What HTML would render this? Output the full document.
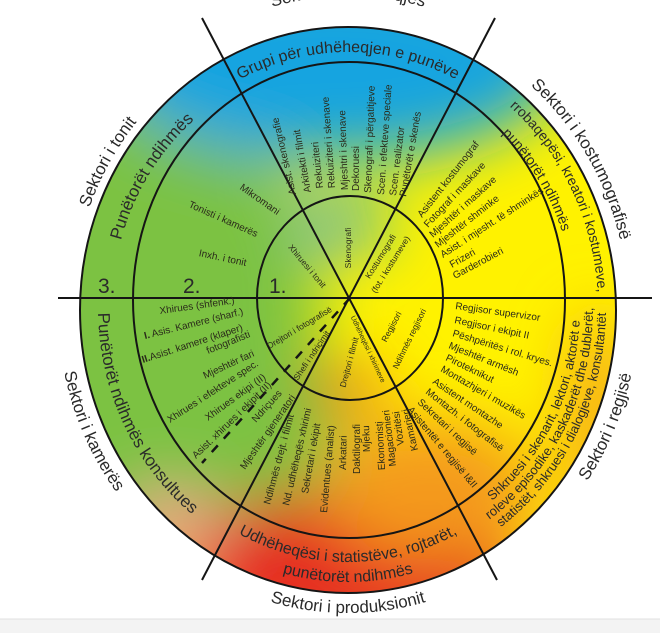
<!DOCTYPE html>
<html><head><meta charset="utf-8"><style>
html,body{margin:0;padding:0;background:#fff;}
svg{display:block;font-family:"Liberation Sans",sans-serif;}
.s{font-size:10px;fill:#2a2a1a;}
.t{font-size:8.5px;fill:#2a2a1a;}
</style></head><body>
<svg width="660" height="633" viewBox="0 0 660 633" xmlns="http://www.w3.org/2000/svg">
<defs>
<clipPath id="cl"><ellipse cx="348" cy="310" rx="268" ry="283"/></clipPath>
<filter id="bl" x="-50%" y="-50%" width="200%" height="200%"><feGaussianBlur stdDeviation="32"/></filter>
<path id="oc1" d="M72,310 A276,292 0 1 1 624,310 A276,292 0 1 1 72,310"/>
<path id="oc2" d="M68,310 A280,296 0 1 1 628,310 A280,296 0 1 1 68,310"/>
<path id="oct" d="M58,310 A290,314 0 1 1 638,310 A290,314 0 1 1 58,310"/>
<path id="ob" d="M58,310 A290,303 0 1 0 638,310 A290,303 0 1 0 58,310"/>
<path id="rc1" d="M112,308 A236,248 0 1 1 584,308 A236,248 0 1 1 112,308"/>
<path id="rct" d="M108,308 A240,256 0 1 1 588,308 A240,256 0 1 1 108,308"/>
<path id="rc2" d="M98,308 A250,264 0 1 1 598,308 A250,264 0 1 1 98,308"/>
<path id="rc3" d="M122,308 A226,238 0 1 1 574,308 A226,238 0 1 1 122,308"/>
<path id="rb1" d="M110,310 A238,252 0 1 0 586,310 A238,252 0 1 0 110,310"/>
<path id="rb2" d="M92,310 A256,272 0 1 0 604,310 A256,272 0 1 0 92,310"/>
<path id="rbk" d="M98,308 A250,264 0 1 0 598,308 A250,264 0 1 0 98,308"/>
<path id="rl1" d="M116,308 A232,246 0 1 0 580,308 A232,246 0 1 0 116,308"/>
<path id="rl2" d="M103,308 A245,259 0 1 0 593,308 A245,259 0 1 0 103,308"/>
<path id="rl3" d="M90,308 A258,272 0 1 0 606,308 A258,272 0 1 0 90,308"/>
</defs>
<rect x="0" y="0" width="660" height="633" fill="#fff"/>
<rect x="0" y="619" width="660" height="14" fill="#f3f3f3"/>
<line x1="0" y1="619" x2="660" y2="619" stroke="#e0e0e0"/>
<g clip-path="url(#cl)">
 <rect x="60" y="20" width="580" height="590" fill="#fff200"/>
 <g filter="url(#bl)">
  <ellipse cx="150" cy="320" rx="170" ry="250" fill="#7cc243"/>
  <ellipse cx="230" cy="420" rx="110" ry="110" fill="#7cc243"/>
  <ellipse cx="335" cy="60" rx="230" ry="100" fill="#19a4e0"/>
  <ellipse cx="345" cy="225" rx="45" ry="22" fill="#19a4e0"/>
  <ellipse cx="350" cy="570" rx="170" ry="80" fill="#e52a24"/>
  <ellipse cx="345" cy="390" rx="40" ry="18" fill="#e52a24"/>
  <ellipse cx="430" cy="490" rx="110" ry="70" fill="#f49a1e"/>
  <ellipse cx="600" cy="420" rx="30" ry="110" fill="#f5a01c"/>
  <ellipse cx="170" cy="525" rx="55" ry="35" fill="#f0a48c"/>
 </g>
</g>
<g fill="none" stroke="#151515" stroke-width="2">
 <ellipse cx="348" cy="310" rx="268" ry="283"/>
 <ellipse cx="349" cy="300" rx="216" ry="238"/>
 <ellipse cx="350" cy="298" rx="93" ry="102"/>
 <line x1="202" y1="18" x2="497" y2="580"/>
 <line x1="495" y1="18" x2="202" y2="580"/>
 <line x1="58" y1="298" x2="652" y2="298"/>
 <line x1="350" y1="298" x2="202" y2="463" stroke-dasharray="9,9" stroke-width="2.5"/>
</g>
<g fill="#2a2a2a">
<text font-size="17"><textPath href="#oc1" startOffset="8.6%" text-anchor="middle">Sektori i tonit</textPath></text>
<text font-size="17"><textPath href="#oc2" startOffset="41.1%" text-anchor="middle">Sektori i kostumografisë</textPath></text>
<text font-size="17"><textPath href="#oct" startOffset="25%" text-anchor="middle">Sektori i udhëheqjes</textPath></text>
<text font-size="17"><textPath href="#ob" startOffset="6.9%" text-anchor="middle">Sektori i kamerës</textPath></text>
<text font-size="17"><textPath href="#ob" startOffset="25%" text-anchor="middle">Sektori i produksionit</textPath></text>
<text font-size="17"><textPath href="#ob" startOffset="43.4%" text-anchor="middle">Sektori i regjisë</textPath></text>
<text font-size="17"><textPath href="#rc1" startOffset="9.2%" text-anchor="middle">Punëtorët ndihmës</textPath></text>
<text font-size="16"><textPath href="#rct" startOffset="25%" text-anchor="middle">Grupi për udhëheqjen e punëve</textPath></text>
<text font-size="14"><textPath href="#rc2" startOffset="42.5%" text-anchor="middle">rrobaqepësi, kreatori i kostumeve,</textPath></text>
<text font-size="14"><textPath href="#rc3" startOffset="40.7%" text-anchor="middle">punëtorët ndihmës</textPath></text>
<text font-size="17"><textPath href="#rbk" startOffset="7.4%" text-anchor="middle">Punëtorët ndihmës konsultues</textPath></text>
<text font-size="16"><textPath href="#rb1" startOffset="25%" text-anchor="middle">Udhëheqësi i statistëve, rojtarët,</textPath></text>
<text font-size="16"><textPath href="#rb2" startOffset="25%" text-anchor="middle">punëtorët ndihmës</textPath></text>
<text font-size="13"><textPath href="#rl1" startOffset="42.3%" text-anchor="middle">Shkruesi i skenarit, lektori, aktorët e</textPath></text>
<text font-size="13"><textPath href="#rl2" startOffset="42.3%" text-anchor="middle">roleve episodike, kaskaderët dhe dublerët,</textPath></text>
<text font-size="13"><textPath href="#rl3" startOffset="42.3%" text-anchor="middle">statistët, shkruesi i dialogjeve, konsultantët</textPath></text>
<text x="98" y="293" font-size="21">3.</text>
<text x="183" y="293" font-size="21">2.</text>
<text x="269" y="293" font-size="21">1.</text>
</g>
<text class="s" transform="translate(258,202) rotate(35)" text-anchor="middle">Mikromani</text>
<text class="s" transform="translate(222,222) rotate(24)" text-anchor="middle">Tonisti i kamerës</text>
<text class="s" transform="translate(222,261) rotate(12)" text-anchor="middle">Inxh. i tonit</text>
<g class="s">
<text transform="translate(296,194) rotate(-103)">Asist. skenografie</text>
<text transform="translate(311,192) rotate(-100)">Arkitekti i filmit</text>
<text transform="translate(323,188) rotate(-96)">Rekuiziteri</text>
<text transform="translate(335,188) rotate(-94)">Rekuiziteri i skenave</text>
<text transform="translate(348,190) rotate(-92)">Mjeshtri i skenave</text>
<text transform="translate(359,191) rotate(-90)">Dekoruesi</text>
<text transform="translate(371,193) rotate(-88)">Skenografi i përgatitjeve</text>
<text transform="translate(384,195) rotate(-86)">Scen. i efekteve speciale</text>
<text transform="translate(396,196) rotate(-83)">Scen. realizator</text>
<text transform="translate(406,197) rotate(-80)">Punëtorët e skenës</text>
</g>
<g class="s">
<text transform="translate(422,218) rotate(-52)">Asistent kostumograf</text>
<text transform="translate(428,228) rotate(-47)">Fotograf i maskave</text>
<text transform="translate(433,238) rotate(-42)">Mjeshtër i maskave</text>
<text transform="translate(438,248) rotate(-38)">Mjeshtër shminke</text>
<text transform="translate(443,258) rotate(-33)">Asist. i mjesht. të shminkës</text>
<text transform="translate(452,268) rotate(-30)">Frizeri</text>
<text transform="translate(455,279) rotate(-28)">Garderobieri</text>
</g>
<g class="s" font-size="10.5">
<text transform="translate(455,309) rotate(8)">Regjisor supervizor</text>
<text transform="translate(454,323) rotate(12)">Regjisor i ekipit II</text>
<text transform="translate(452,336) rotate(17)">Pëshpëritës i rol. kryes.</text>
<text transform="translate(448,348) rotate(22)">Mjeshtër armësh</text>
<text transform="translate(445,360) rotate(26)">Piroteknikut</text>
<text transform="translate(440,371) rotate(30)">Montazhjeri i muzikës</text>
<text transform="translate(432,383) rotate(34)">Asistent montazhe</text>
<text transform="translate(425,393) rotate(38)">Montazh. i fotografisë</text>
<text transform="translate(417,403) rotate(43)">Sekretari i regjisë</text>
<text transform="translate(407,410) rotate(50)">Asistentët e regjisë I&amp;II</text>
</g>
<g class="s">
<text transform="translate(245,470) rotate(-55)">Mjeshtër gjeneratori</text>
<text transform="translate(270,505) rotate(-75)">Ndihmës drejt. i filmit</text>
<text transform="translate(289,506) rotate(-77)">Nd. udhëheqës xhirimi</text>
<text transform="translate(308,494) rotate(-80)">Sekretari i ekipit</text>
<text transform="translate(327,513) rotate(-85)">Evidentues (analist)</text>
<text transform="translate(346,470) rotate(-89)">Arkatari</text>
<text transform="translate(360,474) rotate(-90)">Daktilografi</text>
<text transform="translate(370,452) rotate(-92)">Mjeku</text>
<text transform="translate(385,470) rotate(-93)">Ekonomisti</text>
<text transform="translate(396,466) rotate(-97)">Magacionieri</text>
<text transform="translate(404,445) rotate(-98)">Vozitësi</text>
<text transform="translate(418,450) rotate(-103)">Kamarieri</text>
</g>
<g class="s">
<text transform="translate(160,314) rotate(-8)">Xhirues (shfenk.)</text>
<text transform="translate(145,339) rotate(-14)"><tspan font-weight="bold">I.</tspan> Asis. Kamere (sharf.)</text>
<text transform="translate(143,363) rotate(-18)"><tspan font-weight="bold">II.</tspan>Asist. kamere (klaper)</text>
<text transform="translate(208,354) rotate(-22)">fotografisti</text>
<text transform="translate(205,379) rotate(-25)">Mjeshtër fari</text>
<text transform="translate(170,423) rotate(-33)">Xhirues i efekteve spec.</text>
<text transform="translate(208,421) rotate(-36)">Xhirues ekipi (II)</text>
<text transform="translate(196,459) rotate(-44)">Asist. xhirues i ekipit (II)</text>
<text transform="translate(256,423) rotate(-48)">Ndriçues</text>
</g>
<g class="t">
<text transform="translate(305,268) rotate(50)" text-anchor="middle">Xhiruesi i tonit</text>
<text transform="translate(351,248) rotate(-90)" text-anchor="middle">Skenografi</text>
<text transform="translate(383,258) rotate(-58)" text-anchor="middle">Kostumografi</text>
<text transform="translate(393,266) rotate(-58)" text-anchor="middle">(fot. i kostumeve)</text>
<text transform="translate(301,330) rotate(-31)" text-anchor="middle">Drejtori i fotografisë</text>
<text transform="translate(314,357) rotate(-56)" text-anchor="middle">Shefi i ndriçimit</text>
<text transform="translate(352,363) rotate(-75)" text-anchor="middle">Drejtori i filmit</text>
<text transform="translate(366,350) rotate(65)" text-anchor="middle" font-size="7">Udhëheqësi i xhirimeve</text>
<text transform="translate(394,328) rotate(-62)" text-anchor="middle">Regjisori</text>
<text transform="translate(412,340) rotate(-64)" text-anchor="middle">Ndihmës regjisori</text>
</g>
</svg>
</body></html>
